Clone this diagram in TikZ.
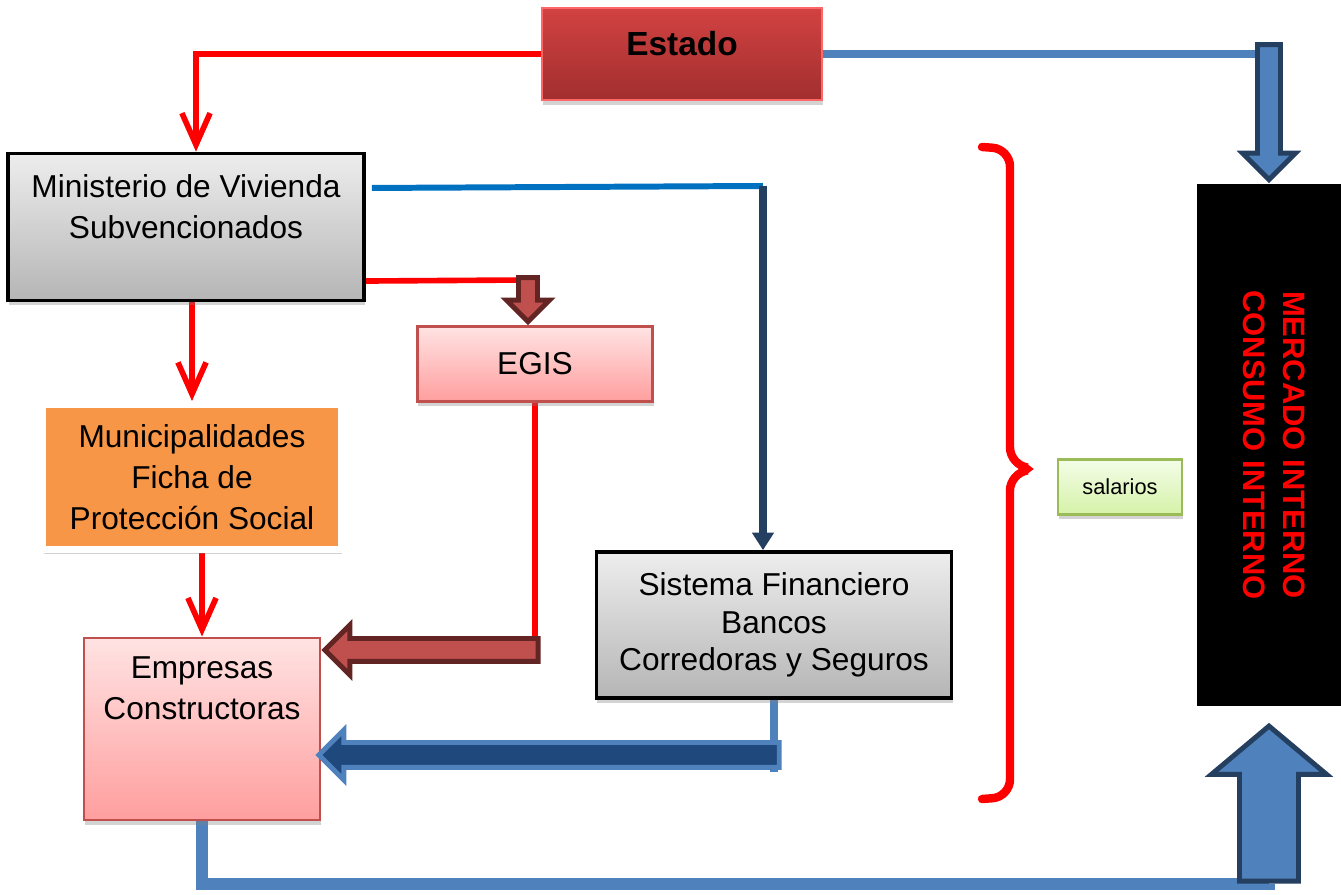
\documentclass[tikz,border=0pt]{standalone}
\usepackage{fontspec}
\setmainfont{Liberation Sans}
\usetikzlibrary{arrows.meta,shapes.arrows,shadows,backgrounds}

\definecolor{estadoarriba}{HTML}{D24242}
\definecolor{estadoabajo}{HTML}{A22E2E}
\definecolor{rojoborde}{HTML}{C0504D}
\definecolor{rojooscuro}{HTML}{632523}
\definecolor{azulflecha}{HTML}{4F81BD}
\definecolor{azulmarino}{HTML}{1F497D}
\definecolor{azulborde}{HTML}{243F60}
\definecolor{azulvivo}{HTML}{0070C0}
\definecolor{naranja}{HTML}{F79646}
\definecolor{verdeborde}{HTML}{9BBB59}
\definecolor{verdearriba}{HTML}{F4FDE8}
\definecolor{verdeabajo}{HTML}{D5F2A8}

\tikzset{
	caja/.style={rectangle, inner sep=0pt, align=center, font=\fontsize{9}{11.7}\selectfont,
		drop shadow={shadow xshift=0.3pt, shadow yshift=-1.3pt, opacity=0.35}},
	gris/.style={caja, draw=black, line width=1pt, top color=gray!14, bottom color=gray!58},
	rosa/.style={caja, draw=rojoborde, line width=0.8pt, top color=red!11, bottom color=red!38},
	lineroja/.style={red, line width=1.6pt},
	barb/.style={-{Straight Barb[length=9pt,width=8pt,line width=1.6pt]}},
	flecha/.style={single arrow, inner xsep=0pt, anchor=tip},
	flecharoja/.style={flecha, fill=rojoborde, draw=rojooscuro, line width=1.4pt},
	flechaazul/.style={flecha, fill=azulflecha, draw=azulborde, line width=1.4pt},
	flechamarino/.style={flecha, fill=azulmarino, draw=azulflecha, line width=1.4pt}
}

\begin{document}
\begin{tikzpicture}[x=0.01cm,y=-0.01cm]
	\useasboundingbox (0,0) rectangle (1341,895);

	\node[caja, draw=red!60, line width=0.6pt, top color=estadoarriba, bottom color=estadoabajo, minimum width=2.79cm, minimum height=0.92cm, font=\fontsize{9.5}{11}\selectfont\bfseries] (estado) at (682,54) {\raisebox{0.1cm}[\height][\depth]{Estado}};
	\node[gris, minimum width=3.56cm, minimum height=1.47cm] (ministerio) at (186,227) {Ministerio de Vivienda\\Subvencionados\\~};
	\node[rosa, minimum width=2.35cm, minimum height=0.75cm] (egis) at (535,364) {EGIS};
	\node[caja, fill=naranja, draw=white, line width=0.07cm, minimum width=2.98cm, minimum height=1.45cm] (muni) at (192,477) {Municipalidades\\Ficha de\\Protección Social};
	\node[rosa, minimum width=2.36cm, minimum height=1.82cm] (empresas) at (202,729) {Empresas\\Constructoras\\~\\~};
	\node[gris, minimum width=3.55cm, minimum height=1.46cm, font=\fontsize{9}{10.7}\selectfont] (sistema) at (774,625) {Sistema Financiero\\Bancos\\Corredoras y Seguros};
	\node[caja, draw=verdeborde, line width=0.8pt, top color=verdearriba, bottom color=verdeabajo, minimum width=1.24cm, minimum height=0.55cm, font=\fontsize{6.2}{7}\selectfont] (salarios) at (1120,487) {salarios};
	\node[rectangle, fill=black, rotate=-90, minimum width=5.22cm, minimum height=1.44cm, align=center, text=red, font=\fontsize{8.8}{11.8}\selectfont\bfseries] (mercado) at (1269,445) {\raisebox{0.05cm}[\height][\depth]{\shortstack{MERCADO INTERNO\\[2pt]CONSUMO INTERNO}}};

	\coordinate (c1) at (763,186);
	\coordinate (c2) at (528,280);

	\node[flecharoja, rotate=-90, minimum height=0.44cm, inner ysep=0.07cm, single arrow head extend=0.12cm] (f1) at (egis.north -| c2) {};
	\node[flecharoja, rotate=180, minimum height=2.13cm, inner ysep=0.09cm, single arrow head extend=0.135cm] (f2) at (empresas.east |- 0,650) {};
	\node[flechamarino, rotate=180, minimum height=4.6cm, inner ysep=0.1cm, single arrow head extend=0.125cm] (f3) at ([xshift=-0.06cm]empresas.east |- 0,755) {};
	\node[flechaazul, rotate=-90, minimum height=1.35cm, inner ysep=0.09cm, single arrow head extend=0.15cm] (f4) at (mercado.west) {};
	\node[flechaazul, rotate=90, minimum height=1.55cm, inner ysep=0.27cm, single arrow head extend=0.28cm, single arrow tip angle=100] (f5) at ([yshift=-0.16cm]mercado.east) {};

	\begin{scope}[on background layer]
	\draw[lineroja, barb] (estado.west) -| ([xshift=0.1cm]ministerio.north);
	\draw[lineroja, barb] (ministerio.south -| muni.north) -- (muni.north);
	\draw[lineroja, barb] (muni.south -| empresas.north) -- (empresas.north);
	\draw[lineroja] ([yshift=-0.54cm]ministerio.east) -- (c2) -- (f1.tail);
	\draw[lineroja] (egis.south) -- (egis.south |- f2.tail);

	\draw[azulvivo, line width=1.7pt] ([xshift=0.06cm,yshift=0.39cm]ministerio.east) -- (c1);
	\draw[azulborde, line width=2.2pt, -{Triangle[length=5pt,width=6pt]}] (c1) -- (c1 |- sistema.north);

	\draw[azulflecha, line width=2pt] (sistema.south) -- ++(0,72);
	\draw[azulflecha, line width=2.5pt] (estado.east) -| (f4.tail);
	\draw[azulflecha, line width=3.4pt] (empresas.south) -- ++(0,63) -| (f5.tail);
	\end{scope}

	\draw[red, line width=2.4pt, line cap=round, rounded corners=5pt] (982,147) -- (1010,149) -- (1010,465) -- (1037,469) -- (1010,473) -- (1010,797) -- (982,799);

\end{tikzpicture}
\end{document}
